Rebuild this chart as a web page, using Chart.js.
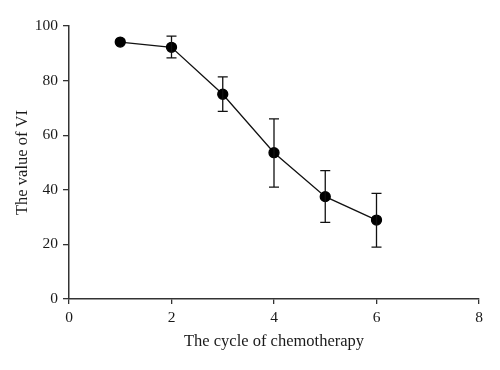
<!DOCTYPE html>
<html>
<head>
<meta charset="utf-8">
<script src="https://cdn.jsdelivr.net/npm/chart.js@4/dist/chart.umd.min.js"></script>
<style>
  html, body { margin: 0; padding: 0; background: #fff; }
  #wrap { width: 500px; height: 370px; }
</style>
</head>
<body>
<div id="wrap"><canvas id="viChart" width="500" height="370"></canvas></div>
<script>
  const cycles = [1, 2, 3, 4, 5, 6];
  const viMean = [94.1, 92.2, 75.0, 53.6, 37.5, 28.9];
  const viLow = [94.1, 88.3, 68.7, 41.0, 28.1, 19.0];
  const viHigh = [94.1, 96.3, 81.4, 66.0, 47.0, 38.7];
  const xTicks = [0, 2, 4, 6, 8];
  const yTicks = [0, 20, 40, 60, 80, 100];

  const serif = '"Liberation Serif", "DejaVu Serif", serif';

  // draws the vertical error bars with caps from viLow / viHigh
  const errorBars = {
    id: 'errorBars',
    afterDatasetsDraw(chart) {
      const ctx = chart.ctx;
      const xs = chart.scales.x;
      const ys = chart.scales.y;
      ctx.save();
      ctx.strokeStyle = '#111';
      ctx.lineWidth = 1.3;
      cycles.forEach((c, i) => {
        if (viHigh[i] === viLow[i]) return;
        const px = xs.getPixelForValue(c);
        const top = ys.getPixelForValue(viHigh[i]);
        const bot = ys.getPixelForValue(viLow[i]);
        ctx.beginPath();
        ctx.moveTo(px, top);
        ctx.lineTo(px, bot);
        ctx.moveTo(px - 5, top);
        ctx.lineTo(px + 5, top);
        ctx.moveTo(px - 5, bot);
        ctx.lineTo(px + 5, bot);
        ctx.stroke();
      });
      ctx.restore();
    }
  };

  const ctx = document.getElementById('viChart').getContext('2d');
  new Chart(ctx, {
    type: 'line',
    data: {
      datasets: [{
        data: cycles.map((c, i) => ({ x: c, y: viMean[i] })),
        borderColor: '#111',
        borderWidth: 1.3,
        pointBackgroundColor: '#000',
        pointBorderColor: '#000',
        pointRadius: 5,
        tension: 0,
        fill: false
      }]
    },
    options: {
      responsive: false,
      animation: false,
      devicePixelRatio: 1,
      layout: { padding: { left: 0, top: 26, right: 21, bottom: 0 } },
      plugins: { legend: { display: false }, tooltip: { enabled: false } },
      scales: {
        x: {
          type: 'linear',
          min: 0,
          max: 8,
          afterBuildTicks: (s) => { s.ticks = xTicks.map((v) => ({ value: v })); },
          afterFit: (s) => { s.height = 71; },
          grid: { display: true, drawOnChartArea: false, drawTicks: true, tickLength: 5, color: '#333', lineWidth: 1.3 },
          border: { display: true, color: '#333', width: 1.5 },
          ticks: { color: '#1a1a1a', font: { family: serif, size: 15.5 }, padding: 5, maxRotation: 0 },
          title: { display: true, text: 'The cycle of chemotherapy', color: '#1a1a1a', font: { family: serif, size: 16.5 }, padding: { top: 0, bottom: 18 } }
        },
        y: {
          type: 'linear',
          min: 0,
          max: 100,
          afterBuildTicks: (s) => { s.ticks = yTicks.map((v) => ({ value: v })); },
          afterFit: (s) => { s.width = 69; },
          grid: { display: true, drawOnChartArea: false, drawTicks: true, tickLength: 6, color: '#333', lineWidth: 1.3 },
          border: { display: true, color: '#333', width: 1.5 },
          ticks: { color: '#1a1a1a', font: { family: serif, size: 15.5 }, padding: 5 },
          title: { display: true, text: 'The value of VI', color: '#1a1a1a', font: { family: serif, size: 16.5 }, padding: { top: 13, bottom: 0 } }
        }
      }
    },
    plugins: [errorBars]
  });
</script>
</body>
</html>
